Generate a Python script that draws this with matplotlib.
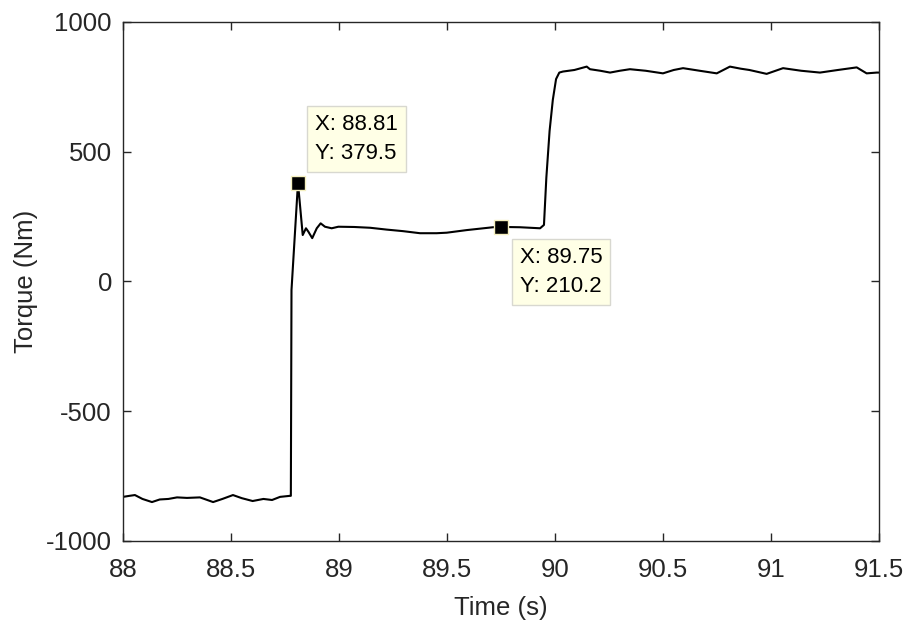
import matplotlib
matplotlib.use("Agg")
import matplotlib.pyplot as plt
import numpy as np

plt.rcParams['font.family'] = ['Liberation Sans', 'DejaVu Sans']
plt.rcParams['axes.unicode_minus'] = False

# torque trace (time in s, torque in Nm)
tiempo = [88.0, 88.03, 88.055, 88.09, 88.134, 88.17, 88.21, 88.25, 88.296, 88.356, 88.39, 88.417,
          88.46, 88.509, 88.55, 88.60, 88.65, 88.69, 88.727, 88.773, 88.777, 88.78, 88.81,
          88.832, 88.847, 88.858, 88.876, 88.897, 88.915, 88.935, 88.966, 88.997,
          89.07, 89.144, 89.22, 89.296, 89.375, 89.452, 89.499, 89.591, 89.713, 89.75,
          89.838, 89.931, 89.949, 89.96, 89.975, 89.99, 90.005, 90.02, 90.037,
          90.09, 90.147, 90.162, 90.21, 90.255, 90.30, 90.347, 90.42, 90.5, 90.55, 90.593,
          90.67, 90.749, 90.81, 90.86, 90.9, 90.98, 91.056, 91.14, 91.227, 91.31, 91.397,
          91.443, 91.49, 91.5]
torque = [-830, -826, -823, -838, -850, -840, -838, -832, -834, -832, -842, -850,
          -838, -823, -835, -846, -838, -842, -830, -826, -826, -33, 379.5,
          179, 205, 192, 167, 205, 224, 211, 205, 211,
          210, 207, 200, 194, 186, 186, 188, 198, 209, 210.2,
          209, 205, 218, 400, 580, 700, 780, 805, 809,
          815, 828, 818, 812, 805, 812, 818, 812, 802, 815, 822,
          812, 802, 828, 820, 815, 800, 822, 812, 805, 815, 825,
          802, 805, 805]

# data tips
tip_x = [88.81, 89.75]
tip_y = [379.5, 210.2]

fig = plt.figure(figsize=(9.08, 6.26), dpi=100)
ax = fig.add_axes([0.1355, 0.1358, 0.8325, 0.8291])

ax.plot(tiempo, torque, color="black", lw=1.5)
ax.plot(tip_x, tip_y, ls="none", marker="s", ms=10, mfc="black", mec="#f5f0c0", mew=1)

ax.set_xlim(88, 91.5)
ax.set_ylim(-1000, 1000)
ax.set_xticks(np.arange(88, 91.51, 0.5))
ax.set_xticklabels(["88", "88.5", "89", "89.5", "90", "90.5", "91", "91.5"])
ax.set_yticks([-1000, -500, 0, 500, 1000])
ax.tick_params(direction="in", length=6, width=1, colors="#262626", labelsize=18.5,
               top=True, right=True)
ax.tick_params(axis="x", pad=12)
ax.tick_params(axis="y", pad=8)
for s in ax.spines.values():
    s.set_color("#262626")
    s.set_linewidth(1.0)

ax.set_xlabel("Time (s)", fontsize=18.5, color="#262626", labelpad=10)
ax.set_ylabel("Torque (Nm)", fontsize=18.5, color="#262626", labelpad=6)

caja = dict(boxstyle="square,pad=0.35", fc="#ffffe6", ec="#d8d8d0", lw=1)
ax.annotate("X: 88.81\nY: 379.5", xy=(tip_x[0], tip_y[0]), xytext=(17, 19),
            textcoords="offset pixels", ha="left", va="bottom", fontsize=16,
            linespacing=1.5, bbox=caja)
ax.annotate("X: 89.75\nY: 210.2", xy=(tip_x[1], tip_y[1]), xytext=(19, -20),
            textcoords="offset pixels", ha="left", va="top", fontsize=16,
            linespacing=1.5, bbox=caja)

fig.savefig("out.png", dpi=100)
